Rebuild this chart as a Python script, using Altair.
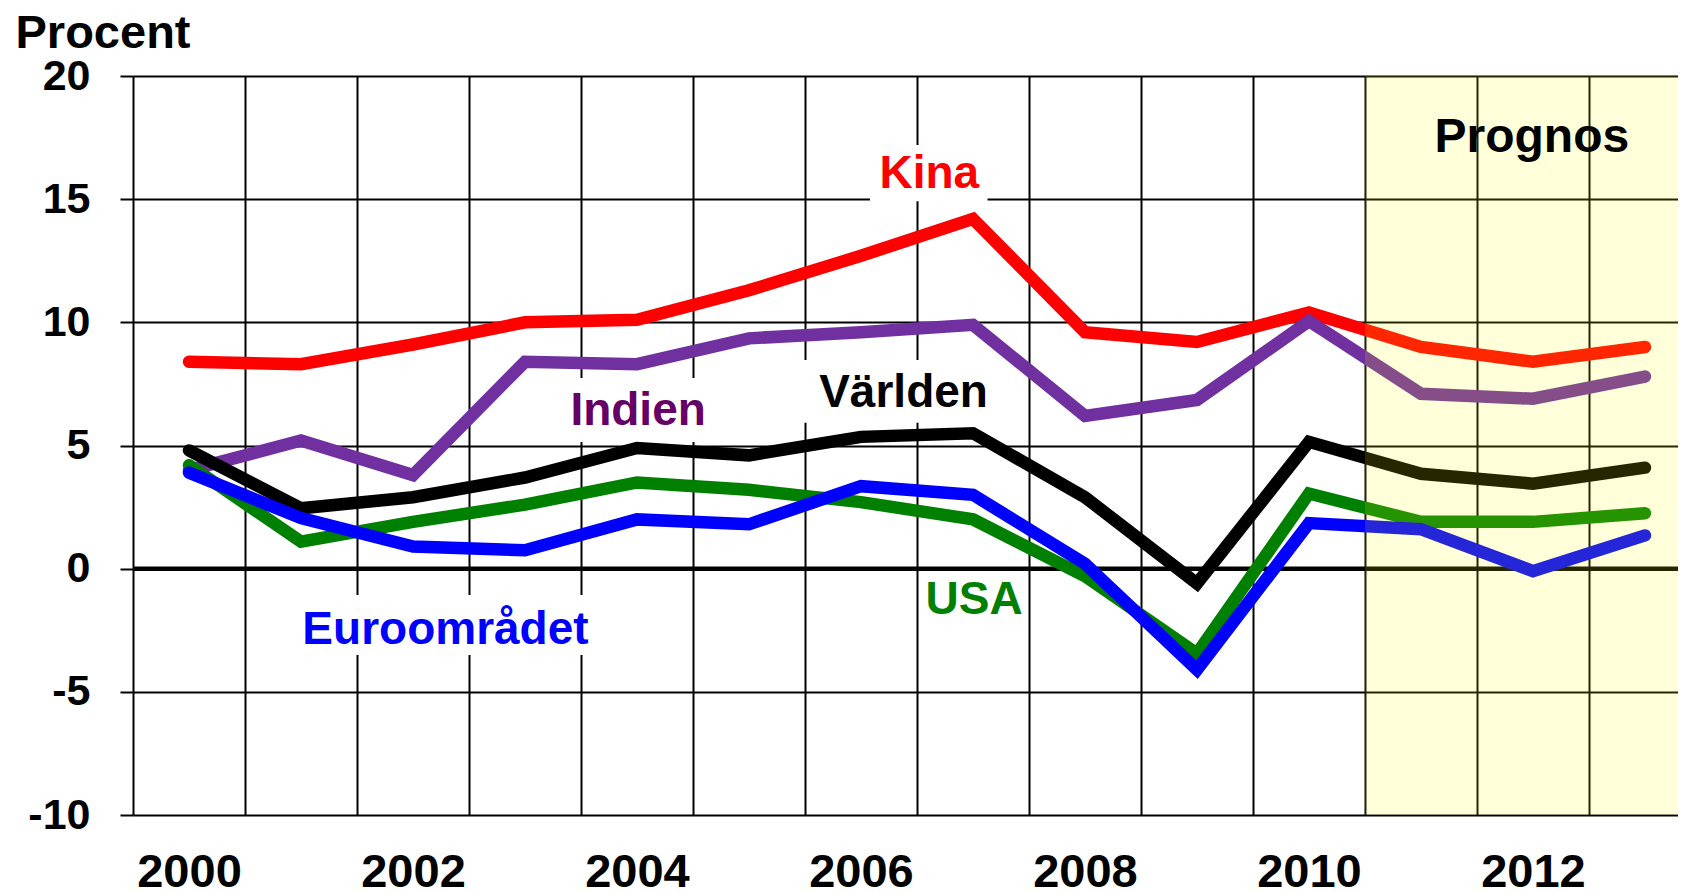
import altair as alt
import pandas as pd

years = list(range(2000, 2014))
series_names = ["Kina", "Indien", "Världen", "USA", "Euroområdet"]
kina = [8.4, 8.3, 9.1, 10.0, 10.1, 11.3, 12.7, 14.2, 9.6, 9.2, 10.4, 9.0, 8.4, 9.0]
indien = [4.0, 5.2, 3.8, 8.4, 8.3, 9.35, 9.6, 9.9, 6.2, 6.85, 10.05, 7.1, 6.9, 7.8]
varlden = [4.8, 2.45, 2.9, 3.7, 4.9, 4.6, 5.35, 5.5, 2.9, -0.6, 5.15, 3.85, 3.45, 4.1]
usa = [4.2, 1.1, 1.9, 2.6, 3.5, 3.2, 2.7, 2.0, -0.3, -3.45, 3.05, 1.9, 1.9, 2.25]
euro = [3.9, 2.05, 0.9, 0.75, 2.0, 1.8, 3.35, 3.0, 0.2, -4.1, 1.85, 1.6, -0.1, 1.35]
line_colors = ["#FF0000", "#7030A0", "#000000", "#008000", "#0000FF"]

y_ticks = [-10, -5, 0, 5, 10, 15, 20]
x_label_years = [2000, 2002, 2004, 2006, 2008, 2010, 2012]
grid_years = [y - 0.5 for y in range(2000, 2015)]

forecast_start = [2010.5]
forecast_end = [2013.5]

label_texts = ["Kina", "Indien", "Världen", "USA", "Euroområdet", "Prognos"]
label_colors = ["#FF0000", "#660066", "#000000", "#008000", "#0000FF", "#000000"]
label_x = [2006.61, 2004.01, 2006.38, 2007.01, 2002.29, 2011.99]
label_y = [15.45, 5.83, 6.57, -1.84, -3.06, 16.9]
label_size = [46, 46, 46, 46, 46, 48]

box_x = [2006.08, 2003.31, 2005.46, 2000.90]
box_x2 = [2007.13, 2004.70, 2007.29, 2003.71]
box_y = [17.2, 7.74, 8.47, -1.07]
box_y2 = [14.92, 5.14, 5.92, -3.5]

FONT = "Liberation Sans, Arial, sans-serif"

x_scale = alt.Scale(domain=[1999.5, 2013.295], nice=False, zero=False)
y_scale = alt.Scale(domain=[-10, 20], nice=False, zero=False)

all_x_vals = sorted(grid_years + x_label_years)

x_axis = alt.Axis(
    values=all_x_vals,
    title=None,
    grid=True,
    gridColor="#000000",
    gridWidth=2,
    gridOpacity={"condition": {"test": "datum.value % 1 != 0", "value": 1}, "value": 0},
    ticks=False,
    tickSize=0,
    domain=False,
    labelExpr="datum.value % 2 == 0 ? '' + datum.value : ''",
    labelFont=FONT,
    labelFontSize=47,
    labelFontWeight="bold",
    labelColor="#000000",
    labelPadding=71,
    labelBaseline="alphabetic",
    labelOverlap=False,
    labelFlush=False,
    labelBound=False,
)

y_axis = alt.Axis(
    values=y_ticks,
    title="Procent",
    titleAngle=0,
    titleX=-118,
    titleY=-29,
    titleAlign="left",
    titleBaseline="alphabetic",
    titleFont=FONT,
    titleFontSize=47,
    titleFontWeight="bold",
    titleColor="#000000",
    grid=True,
    gridColor="#000000",
    gridWidth=2,
    gridOpacity=1,
    ticks=True,
    tickSize=13,
    tickWidth=2,
    tickColor="#000000",
    domain=False,
    labelExpr="'' + datum.value",
    labelFont=FONT,
    labelFontSize=43,
    labelFontWeight="bold",
    labelColor="#000000",
    labelPadding=30,
)

rows = []
for name, vals in zip(series_names, [kina, indien, varlden, usa, euro]):
    for yr, v in zip(years, vals):
        rows.append({"year": yr, "value": v, "series": name})
df = pd.DataFrame(rows)

boxes = pd.DataFrame({"x": box_x, "x2": box_x2, "y": box_y, "y2": box_y2})
labels = pd.DataFrame({"text": label_texts, "color": label_colors, "x": label_x,
                       "y": label_y, "size": label_size})
fc = pd.DataFrame({"x": forecast_start, "x2": forecast_end, "y": [20], "y2": [-10]})
zero_df = pd.DataFrame({"y": [0]})

box_layer = alt.Chart(boxes).mark_rect(color="#FFFFFF").encode(
    x=alt.X("x:Q", scale=x_scale, axis=x_axis),
    x2="x2:Q",
    y=alt.Y("y:Q", scale=y_scale, axis=y_axis),
    y2="y2:Q",
)

zero_rule = alt.Chart(zero_df).mark_rule(color="#000000", strokeWidth=4.5).encode(
    y=alt.Y("y:Q", scale=y_scale, axis=y_axis),
)

line_layers = []
for name, col in zip(series_names, line_colors):
    line_layers.append(
        alt.Chart(df).transform_filter(alt.datum.series == name).mark_line(
            color=col, strokeWidth=12.5, strokeCap="round", strokeJoin="miter", clip=True
        ).encode(
            x=alt.X("year:Q", scale=x_scale, axis=x_axis),
            y=alt.Y("value:Q", scale=y_scale, axis=y_axis),
        )
    )

forecast = alt.Chart(fc).mark_rect(color="#FFFF00", opacity=0.15, clip=True).encode(
    x=alt.X("x:Q", scale=x_scale, axis=x_axis),
    x2="x2:Q",
    y=alt.Y("y:Q", scale=y_scale, axis=y_axis),
    y2="y2:Q",
)

text_layer = alt.Chart(labels).mark_text(
    font=FONT, fontWeight="bold", align="center", baseline="alphabetic"
).encode(
    x=alt.X("x:Q", scale=x_scale, axis=x_axis),
    y=alt.Y("y:Q", scale=y_scale, axis=y_axis),
    text="text:N",
    color=alt.Color("color:N", scale=None),
    size=alt.Size("size:Q", scale=None),
)

chart = alt.layer(
    box_layer, zero_rule, *line_layers, forecast, text_layer
).properties(
    width=1545,
    height=739,
    autosize=alt.AutoSizeParams(type="none"),
    padding={"left": 125, "top": 68, "right": 0, "bottom": 82},
    background="#FFFFFF",
).configure_view(stroke=None)

chart.save("out.html", embed_options={"renderer": "svg", "actions": False})
